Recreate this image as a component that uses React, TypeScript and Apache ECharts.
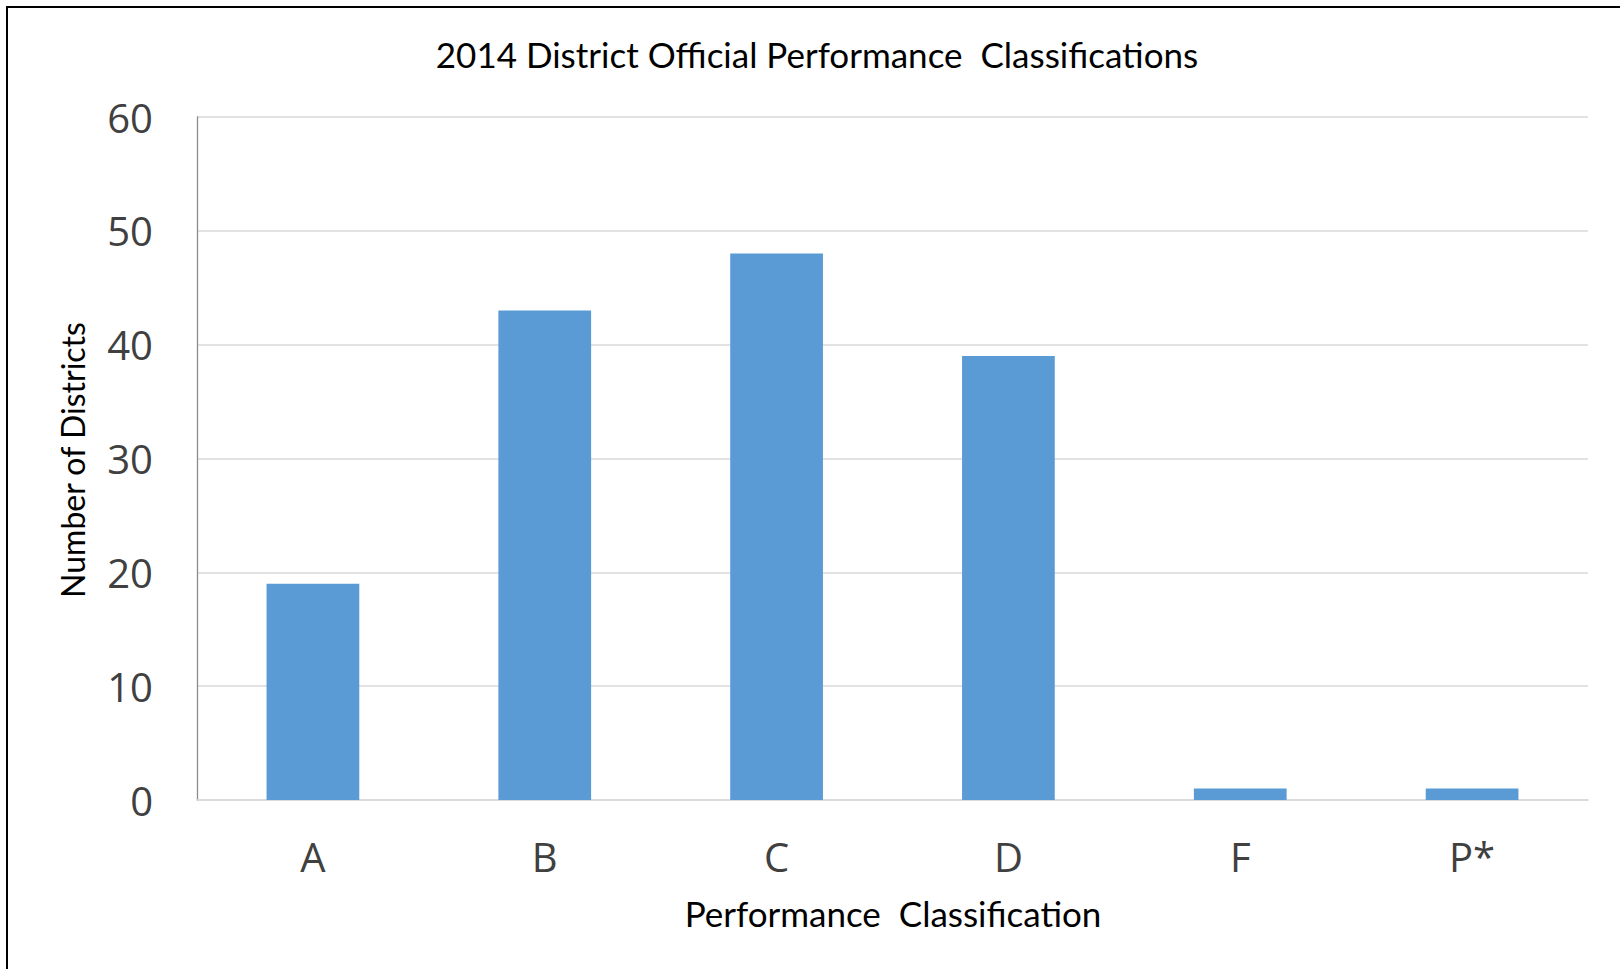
import React, { useEffect, useRef } from "react";
import * as echarts from "echarts";

const titleText = "2014 District Official Performance  Classifications";
const xAxisTitle = "Performance  Classification";
const yAxisTitle = "Number of Districts";
const categories = ["A", "B", "C", "D", "F", "P*"];
const districtCounts = [19, 43, 48, 39, 1, 1];
const yMin = 0;
const yMax = 60;
const yInterval = 10;

export default function App() {
  const ref = useRef<HTMLDivElement>(null);
  useEffect(() => {
    if (!ref.current) return;
    const chart = echarts.init(ref.current, undefined, { renderer: "svg" });
    chart.setOption({
      animation: false,
      backgroundColor: "#ffffff",
      grid: { left: 197, top: 117, right: 32, bottom: 169, containLabel: false },
      xAxis: {
        type: "category",
        data: categories,
        axisLine: { show: true, lineStyle: { color: "#d9d9d9", width: 1.5 } },
        axisTick: { show: false },
        axisLabel: {
          margin: 36,
          fontFamily: "'Open Sans', sans-serif",
          fontSize: 40,
          color: "#404040",
        },
      },
      yAxis: {
        type: "value",
        min: yMin,
        max: yMax,
        interval: yInterval,
        axisLine: { show: true, lineStyle: { color: "#8c8c8c", width: 1.3 } },
        axisTick: { show: false },
        splitLine: { show: true, lineStyle: { color: "#d9d9d9", width: 1.5 } },
        axisLabel: {
          margin: 44,
          fontFamily: "'Open Sans', sans-serif",
          fontSize: 40,
          color: "#404040",
        },
      },
      series: [
        {
          type: "bar",
          data: districtCounts,
          barWidth: "40%",
          itemStyle: { color: "#5b9bd5" },
        },
      ],
      graphic: [
        {
          type: "rect",
          silent: true,
          shape: { x: 7, y: 7, width: 1700, height: 1100 },
          style: { fill: "none", stroke: "#000000", lineWidth: 2 },
        },
        {
          type: "text",
          x: 817,
          y: 54,
          style: {
            text: titleText,
            fontFamily: "Lato, sans-serif",
            fontSize: 35,
            fill: "#000000",
            textAlign: "center",
            textVerticalAlign: "middle",
          },
        },
        {
          type: "text",
          x: 893,
          y: 913,
          style: {
            text: xAxisTitle,
            fontFamily: "Lato, sans-serif",
            fontSize: 35,
            fill: "#000000",
            textAlign: "center",
            textVerticalAlign: "middle",
          },
        },
        {
          type: "text",
          x: 72,
          y: 460,
          rotation: Math.PI / 2,
          style: {
            text: yAxisTitle,
            fontFamily: "Lato, sans-serif",
            fontSize: 32,
            fill: "#000000",
            textAlign: "center",
            textVerticalAlign: "middle",
          },
        },
      ],
    });
    return () => chart.dispose();
  }, []);
  return (
    <div
      ref={ref}
      style={{ position: "fixed", left: 0, top: 0, width: 1620, height: 969 }}
    />
  );
}
